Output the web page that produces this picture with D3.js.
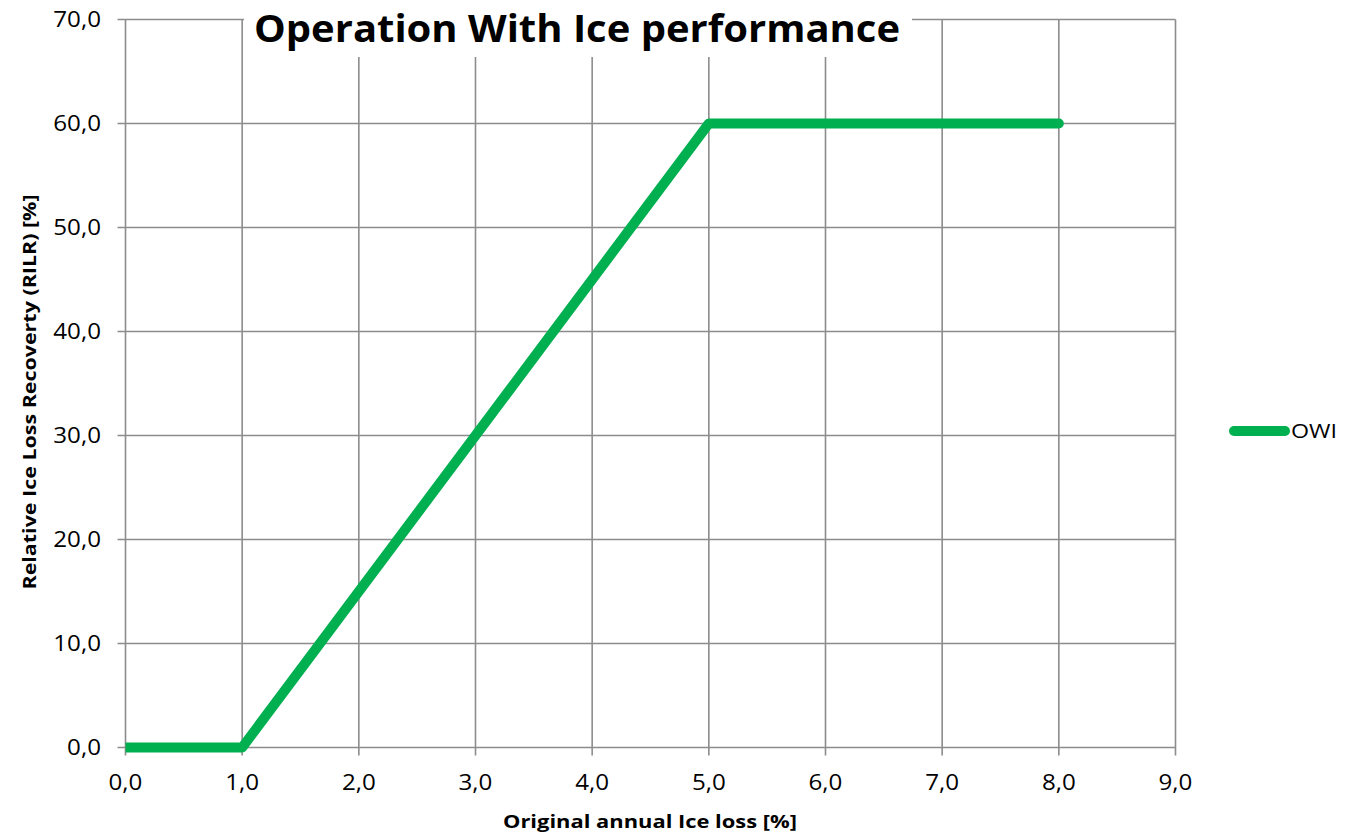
<!DOCTYPE html>
<html><head><meta charset="utf-8">
<script src="https://cdn.jsdelivr.net/npm/d3@7"></script>
<style>body{margin:0;background:#fff}svg{display:block}</style>
</head><body>
<script>
const xValues = [0, 1, 5, 8];
const owiValues = [0, 0, 60, 60];
const seriesName = "OWI";
const xTicks = [0,1,2,3,4,5,6,7,8,9];
const yTicks = [0,10,20,30,40,50,60,70];
const titleText = "Operation With Ice performance";
const xTitle = "Original annual Ice loss [%]";
const yTitle = "Relative Ice Loss Recoverty (RILR) [%]";

const W = 1360, H = 836;
const L = 125.5, R = 1175.5, T = 19.5, B = 747.5;
const font = "Open Sans, sans-serif";
const fmt = v => v.toFixed(1).replace(".", ",");
const stretch = 1.15;

const svg = d3.select("body").append("svg").attr("width", W).attr("height", H);
const x = d3.scaleLinear().domain([0, 9]).range([L, R]);
const y = d3.scaleLinear().domain([0, 70]).range([B, T]);
const grid = "#8c8c8c";

function widen(sel) {
  sel.each(function () {
    const w = this.getComputedTextLength();
    d3.select(this).attr("textLength", w * stretch).attr("lengthAdjust", "spacingAndGlyphs");
  });
}

// gridlines
svg.append("g").selectAll("line").data(xTicks).join("line")
  .attr("x1", d => x(d)).attr("x2", d => x(d)).attr("y1", T).attr("y2", B + 8)
  .attr("stroke", grid).attr("stroke-width", 1.6);
svg.append("g").selectAll("line").data(yTicks).join("line")
  .attr("x1", L - 8).attr("x2", R).attr("y1", d => y(d)).attr("y2", d => y(d))
  .attr("stroke", grid).attr("stroke-width", 1.6);

// tick labels
svg.append("g").selectAll("text").data(yTicks).join("text")
  .attr("x", 101).attr("y", d => y(d) + 7.5).attr("text-anchor", "end")
  .attr("font-family", font).attr("font-size", 21).text(fmt).call(widen);
svg.append("g").selectAll("text").data(xTicks).join("text")
  .attr("x", d => x(d)).attr("y", 790).attr("text-anchor", "middle")
  .attr("font-family", font).attr("font-size", 21).text(fmt).call(widen);

// clip
svg.append("clipPath").attr("id", "pc").append("rect")
  .attr("x", L).attr("y", T - 10).attr("width", R - L).attr("height", B - T + 20);

const data = xValues.map((v, i) => [v, owiValues[i]]);
svg.append("path").datum(data)
  .attr("clip-path", "url(#pc)")
  .attr("d", d3.line().x(d => x(d[0])).y(d => y(d[1])))
  .attr("fill", "none").attr("stroke", "#00b050").attr("stroke-width", 10)
  .attr("stroke-linecap", "round").attr("stroke-linejoin", "round");

// title with white box
svg.append("rect").attr("x", 244).attr("y", 0).attr("width", 668).attr("height", 57).attr("fill", "#fff");
svg.append("text").attr("x", 577).attr("y", 42).attr("text-anchor", "middle")
  .attr("font-family", font).attr("font-weight", "bold").attr("font-size", 38)
  .attr("textLength", 646).attr("lengthAdjust", "spacingAndGlyphs").text(titleText);

// axis titles
svg.append("text").attr("x", 650).attr("y", 828).attr("text-anchor", "middle")
  .attr("font-family", font).attr("font-weight", "bold").attr("font-size", 17)
  .attr("textLength", 294).attr("lengthAdjust", "spacingAndGlyphs").text(xTitle);
svg.append("text").attr("transform", "translate(36,392) rotate(-90)").attr("text-anchor", "middle")
  .attr("font-family", font).attr("font-weight", "bold").attr("font-size", 17)
  .attr("textLength", 395).attr("lengthAdjust", "spacingAndGlyphs").text(yTitle);

// legend
svg.append("line").attr("x1", 1234).attr("x2", 1285).attr("y1", 431).attr("y2", 431)
  .attr("stroke", "#00b050").attr("stroke-width", 10).attr("stroke-linecap", "round");
svg.append("text").attr("x", 1291).attr("y", 438).attr("font-family", font).attr("font-size", 20)
  .attr("textLength", 46).attr("lengthAdjust", "spacingAndGlyphs").text(seriesName);
</script>
</body></html>
